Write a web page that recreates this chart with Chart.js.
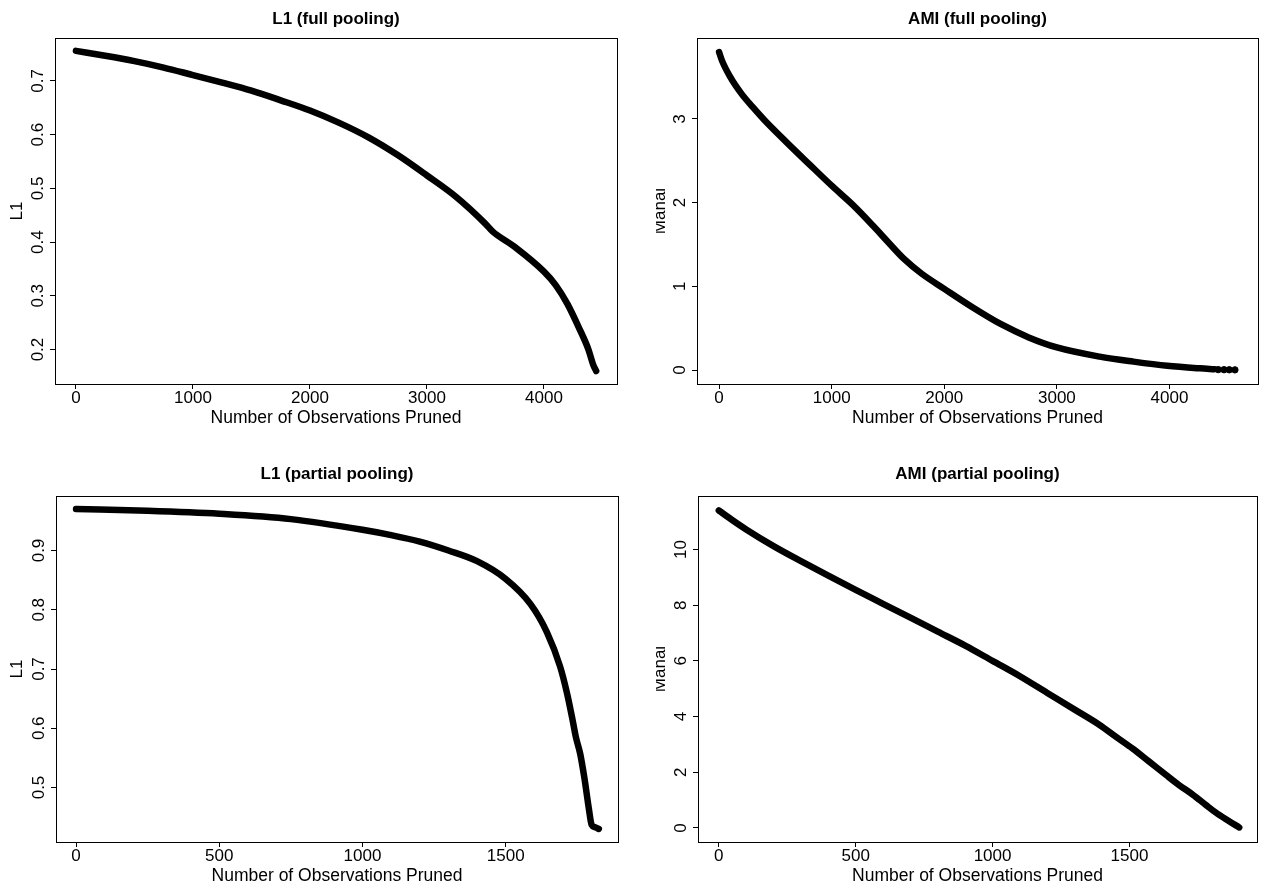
<!DOCTYPE html>
<html>
<head>
<meta charset="utf-8">
<script src="https://cdn.jsdelivr.net/npm/chart.js@4.4.1/dist/chart.umd.min.js"></script>
<style>
html, body { margin: 0; padding: 0; background: #fff; overflow: hidden; width: 1262px; height: 888px; }
canvas { position: absolute; }
</style>
</head>
<body>
<canvas id="c1" style="left:0px;top:0px" width="672" height="444"></canvas>
<canvas id="c2" style="left:656px;top:0px" width="643" height="444"></canvas>
<canvas id="c3" style="left:0px;top:444px" width="674" height="444"></canvas>
<canvas id="c4" style="left:656px;top:444px" width="643" height="444"></canvas>
<script>
// L1 (full pooling)
const l1FullX = [0, 250, 500, 750, 1000, 1250, 1500, 1750, 2000, 2250, 2500, 2750, 3000, 3250, 3500, 3560, 3750, 4000, 4100, 4200, 4300, 4380, 4420, 4446];
const l1FullY = [0.756, 0.747, 0.737, 0.725, 0.711, 0.697, 0.682, 0.664, 0.645, 0.622, 0.595, 0.562, 0.524, 0.484, 0.434, 0.420, 0.391, 0.345, 0.320, 0.285, 0.240, 0.200, 0.172, 0.160];

// AMI (full pooling)
const amiFullX = [0, 25, 100, 200, 300, 400, 600, 800, 1010, 1190, 1370, 1500, 1640, 1800, 2000, 2250, 2500, 2750, 3000, 3380, 3680, 3980, 4270, 4400];
const amiFullY = [3.80, 3.70, 3.50, 3.30, 3.14, 2.99, 2.72, 2.46, 2.19, 1.97, 1.72, 1.53, 1.33, 1.15, 0.97, 0.75, 0.55, 0.39, 0.27, 0.16, 0.10, 0.05, 0.02, 0.01];
const amiFullTailX = [4433, 4484, 4531, 4581];
const amiFullTailY = [0.005, 0.004, 0.003, 0.002];

// L1 (partial pooling)
const l1PartX = [0, 250, 500, 750, 1000, 1100, 1200, 1300, 1400, 1500, 1586, 1644, 1690, 1715, 1735, 1745, 1760, 1775, 1790, 1800, 1812, 1825];
const l1PartY = [0.970, 0.967, 0.962, 0.953, 0.935, 0.926, 0.915, 0.900, 0.882, 0.852, 0.810, 0.762, 0.704, 0.657, 0.610, 0.585, 0.557, 0.515, 0.465, 0.437, 0.433, 0.430];

// AMI (partial pooling)
const amiPartX = [0, 50, 100, 200, 300, 400, 500, 600, 700, 800, 900, 1000, 1100, 1200, 1300, 1391, 1450, 1512, 1570, 1634, 1680, 1731, 1780, 1816, 1860, 1901];
const amiPartY = [11.4, 11.05, 10.72, 10.12, 9.58, 9.06, 8.55, 8.05, 7.55, 7.05, 6.55, 6.0, 5.45, 4.85, 4.25, 3.70, 3.28, 2.85, 2.40, 1.90, 1.55, 1.20, 0.82, 0.55, 0.27, 0.02];

// tick values
const xTicksFull = [0, 1000, 2000, 3000, 4000];
const xTicksPart = [0, 500, 1000, 1500];
const yTicksL1Full = [0.2, 0.3, 0.4, 0.5, 0.6, 0.7];
const yTicksAmiFull = [0, 1, 2, 3];
const yTicksL1Part = [0.5, 0.6, 0.7, 0.8, 0.9];
const yTicksAmiPart = [0, 2, 4, 6, 8, 10];

const FONT = "'Liberation Sans', Arial, Helvetica, sans-serif";
const xTitle = 'Number of Observations Pruned';

// R-style box and rotated y tick labels
const rBox = {
    id: 'rBox',
    afterDraw(chart) {
        const { ctx, chartArea: a } = chart;
        const ys = chart.scales.y;
        ctx.save();
        ctx.strokeStyle = '#000';
        ctx.lineWidth = 1;
        ctx.strokeRect(Math.round(a.left) + 0.5, Math.round(a.top) + 0.5,
            Math.round(a.right - a.left), Math.round(a.bottom - a.top));
        ctx.fillStyle = '#000';
        ctx.font = '17px ' + FONT;
        ctx.textAlign = 'center';
        ctx.textBaseline = 'alphabetic';
        ys.ticks.forEach(t => {
            const py = ys.getPixelForValue(t.value);
            ctx.save();
            ctx.translate(a.left - 12, py);
            ctx.rotate(-Math.PI / 2);
            ctx.fillText(String(t.value), 0, 0);
            ctx.restore();
        });
        ctx.restore();
    }
};

function pts(xs, ys) {
    return xs.map((x, i) => ({ x: x, y: ys[i] }));
}

function panel(id, p) {
    const datasets = [{
        data: pts(p.xs, p.ys),
        borderColor: '#000',
        borderWidth: 6.5,
        borderCapStyle: 'round',
        borderJoinStyle: 'round',
        pointRadius: 0,
        cubicInterpolationMode: 'monotone',
        fill: false
    }];
    if (p.dotsX) {
        datasets.push({
            data: pts(p.dotsX, p.dotsY),
            showLine: false,
            pointRadius: 3.2,
            pointBorderWidth: 1,
            pointBorderColor: '#000',
            pointBackgroundColor: '#000'
        });
    }
    const grid = { drawOnChartArea: false, drawTicks: true, tickLength: 5, color: '#000', tickColor: '#000' };
    new Chart(document.getElementById(id), {
        type: 'line',
        data: { datasets: datasets },
        options: {
            responsive: false,
            animation: false,
            layout: { padding: { left: 0, right: 0, top: 0, bottom: p.padBottom } },
            plugins: {
                legend: { display: false },
                tooltip: { enabled: false },
                title: {
                    display: true,
                    text: p.title,
                    color: '#000',
                    font: { family: FONT, size: 17, weight: 'bold', lineHeight: 1.2 },
                    padding: { top: p.titleTop, bottom: p.titleBottom }
                }
            },
            scales: {
                x: {
                    type: 'linear',
                    min: p.xMin,
                    max: p.xMax,
                    afterBuildTicks: s => { s.ticks = p.xTicks.map(v => ({ value: v })); },
                    afterFit: s => { s.height = 44.5; },
                    border: { display: false },
                    grid: grid,
                    ticks: { autoSkip: false, maxRotation: 0, padding: -1, color: '#000',
                        font: { family: FONT, size: 17 }, callback: v => String(v) },
                    title: { display: true, text: xTitle, color: '#000', font: { family: FONT, size: 17.5 }, padding: 0 }
                },
                y: {
                    type: 'linear',
                    min: p.yMin,
                    max: p.yMax,
                    afterBuildTicks: s => { s.ticks = p.yTicks.map(v => ({ value: v })); },
                    afterFit: s => { s.width = p.yWidth; },
                    border: { display: false },
                    grid: grid,
                    ticks: { display: false },
                    title: { display: true, text: p.yTitle, color: '#000',
                        font: { family: FONT, size: 17, lineHeight: 1.2 }, padding: { top: p.yTitlePad, bottom: 0 } }
                },
                // empty right margin so the title centres over the plot box
                yRight: {
                    type: 'linear',
                    position: 'right',
                    afterFit: s => { s.width = p.padRight; },
                    border: { display: false },
                    grid: { display: false },
                    ticks: { display: false }
                }
            }
        },
        plugins: [rBox]
    });
}

panel('c1', {
    xs: l1FullX, ys: l1FullY, title: 'L1 (full pooling)', yTitle: 'L1',
    xMin: -179, xMax: 4624, yMin: 0.1358, yMax: 0.780, xTicks: xTicksFull, yTicks: yTicksL1Full,
    yWidth: 55, padRight: 55, padBottom: 15.5, titleTop: 8.8, titleBottom: 8.8, yTitlePad: 7.3
});
panel('c2', {
    xs: amiFullX, ys: amiFullY, dotsX: amiFullTailX, dotsY: amiFullTailY,
    title: 'AMI (full pooling)', yTitle: 'Mahal',
    xMin: -196, xMax: 4786, yMin: -0.167, yMax: 3.967, xTicks: xTicksFull, yTicks: yTicksAmiFull,
    yWidth: 41, padRight: 41, padBottom: 15.5, titleTop: 8.8, titleBottom: 8.8, yTitlePad: -6
});
panel('c3', {
    xs: l1PartX, ys: l1PartY, title: 'L1 (partial pooling)', yTitle: 'L1',
    xMin: -70, xMax: 1892, yMin: 0.408, yMax: 0.992, xTicks: xTicksPart, yTicks: yTicksL1Part,
    yWidth: 56, padRight: 56, padBottom: 1.5, titleTop: 19.8, titleBottom: 11.8, yTitlePad: 7.3
});
panel('c4', {
    xs: amiPartX, ys: amiPartY, title: 'AMI (partial pooling)', yTitle: 'Mahal',
    xMin: -76, xMax: 1966, yMin: -0.503, yMax: 11.92, xTicks: xTicksPart, yTicks: yTicksAmiPart,
    yWidth: 42, padRight: 42, padBottom: 1.5, titleTop: 19.8, titleBottom: 11.8, yTitlePad: -6
});
</script>
</body>
</html>
